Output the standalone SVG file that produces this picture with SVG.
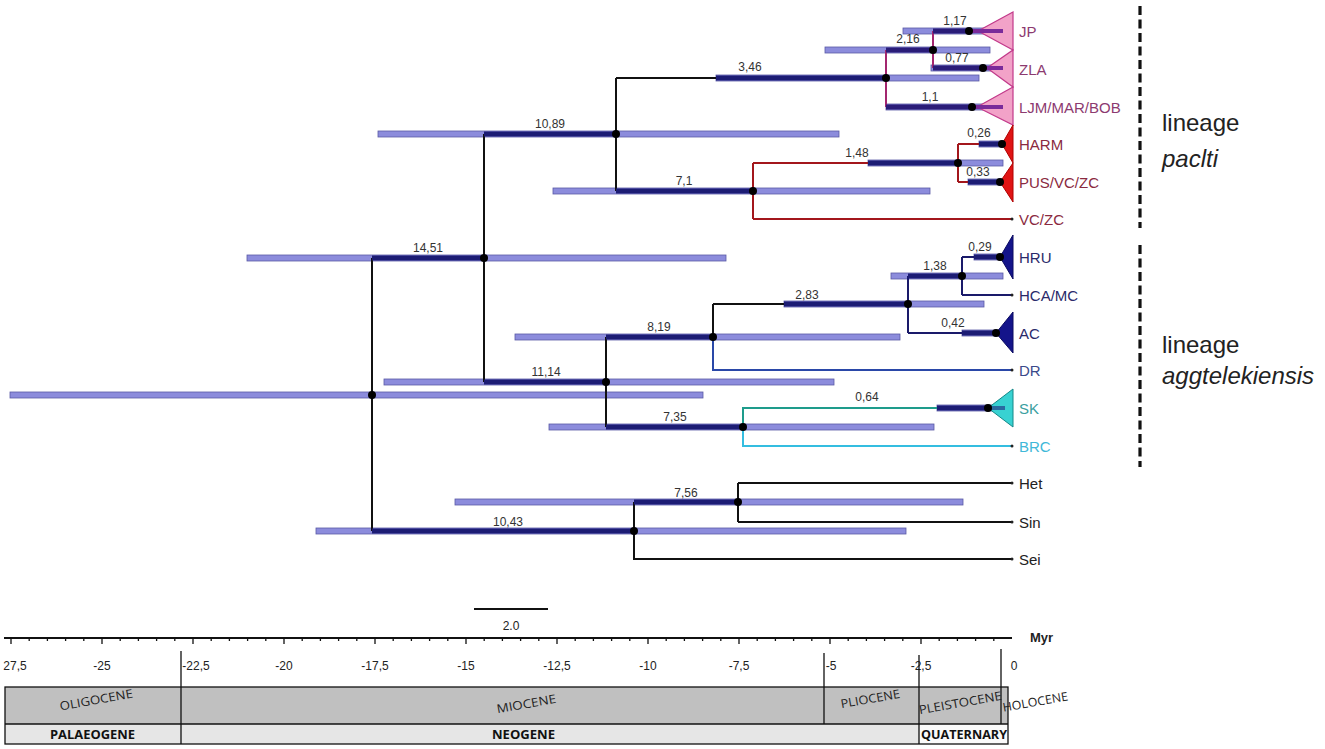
<svg xmlns="http://www.w3.org/2000/svg" width="1325" height="749" viewBox="0 0 1325 749">
<style>
text{font-family:"Liberation Sans",Arial,sans-serif}
.hpd{fill:#8c8cdc;stroke:#5a5aa6;stroke-width:0.8}
.thick{stroke:#1c1c74;stroke-width:5;fill:none}
.bk{stroke:#111;stroke-width:2;fill:none}
.mg{stroke:#a3266f;stroke-width:2;fill:none}
.rd{stroke:#a3171c;stroke-width:2;fill:none}
.nv{stroke:#1a1a6a;stroke-width:2;fill:none}
.bl{stroke:#2a48a8;stroke-width:2;fill:none}
.tl{stroke:#1e9c8c;stroke-width:2;fill:none}
.cy{stroke:#34bde0;stroke-width:2;fill:none}
.dot{fill:#000}
.tipdot{fill:#222}
.age{font-size:12px;text-anchor:middle;fill:#333}
.tax{font-size:15px}
.ax{font-size:12px;text-anchor:middle;fill:#222}
.ep{font-family:"Open Sans","Liberation Sans",sans-serif;font-size:12px;fill:#222;text-anchor:middle}
.per{font-family:"Open Sans","Liberation Sans",sans-serif;font-size:12px;font-weight:bold;fill:#111}
.gl{stroke:#111;stroke-width:1.3;fill:none}
</style>

<g id="hpd-bars">
<rect class="hpd" x="10" y="392" width="693" height="6"/>
<rect class="hpd" x="247" y="255" width="479" height="6"/>
<rect class="hpd" x="378" y="131" width="461" height="6"/>
<rect class="hpd" x="553" y="188" width="377" height="6"/>
<rect class="hpd" x="716" y="75" width="263" height="6"/>
<rect class="hpd" x="825" y="47" width="165" height="6"/>
<rect class="hpd" x="903" y="28" width="100" height="6"/>
<rect class="hpd" x="931" y="65" width="72" height="6"/>
<rect class="hpd" x="886" y="104" width="117" height="6"/>
<rect class="hpd" x="868" y="160" width="135" height="6"/>
<rect class="hpd" x="979" y="141" width="26" height="6"/>
<rect class="hpd" x="968" y="179" width="37" height="6"/>
<rect class="hpd" x="384" y="379" width="450" height="6"/>
<rect class="hpd" x="515" y="334" width="385" height="6"/>
<rect class="hpd" x="784" y="301" width="200" height="6"/>
<rect class="hpd" x="891" y="273" width="112" height="6"/>
<rect class="hpd" x="974" y="254" width="31" height="6"/>
<rect class="hpd" x="962" y="330" width="43" height="6"/>
<rect class="hpd" x="549" y="424" width="385" height="6"/>
<rect class="hpd" x="937" y="405" width="68" height="6"/>
<rect class="hpd" x="316" y="528" width="590" height="6"/>
<rect class="hpd" x="455" y="499" width="508" height="6"/>
</g>

<g id="connectors">
<!-- root -->
<path class="bk" d="M372 258V531"/>
<path class="thick" d="M372 258H484M372 531H634"/>
<!-- 14.51 -->
<path class="bk" d="M484 134V382"/>
<path class="thick" d="M484 134H616M484 382H606"/>
<!-- 10.89 -->
<path class="bk" d="M616 78V191M616 78H716"/>
<path class="thick" d="M716 78H886M616 191H753"/>
<!-- 3.46 clade -->
<path class="mg" d="M886 50V107M933 31V68"/>
<path class="thick" style="stroke:#2a1c78" d="M886 50H933M886 107H972M933 31H969M933 68H983"/>
<!-- 7.1 clade -->
<path class="rd" d="M753 163V219M753 163H868M753 219H1012M958 144V182M958 144H979M958 182H968"/>
<path class="thick" d="M868 163H958M979 144H1002M968 182H1000"/>
<!-- 11.14 -->
<path class="bk" d="M606 337V427M713 304V337M713 304H784"/>
<path class="thick" d="M606 337H713M606 427H743M784 304H908"/>
<path class="bl" d="M713 337V370H1012"/>
<!-- 2.83 clade -->
<path class="nv" d="M908 276V333M908 333H962M962 257V295M962 257H974M962 295H1012"/>
<path class="thick" d="M908 276H962M962 333H996M974 257H1000"/>
<!-- 7.35 clade -->
<path class="tl" d="M743 427V408H937"/>
<path class="cy" d="M743 427V446H1012"/>
<path class="thick" d="M937 408H988"/>
<!-- outgroups -->
<path class="bk" d="M634 502V559H1012M738 483V522M738 483H1012M738 522H1012"/>
<path class="thick" d="M634 502H738"/>
</g>

<g id="tips">
<circle class="tipdot" cx="1012" cy="219" r="1.5"/>
<circle class="tipdot" cx="1012" cy="370" r="1.5"/>
<circle class="tipdot" cx="1012" cy="295" r="1.5"/>
<circle class="tipdot" cx="1012" cy="446" r="1.5"/>
<circle class="tipdot" cx="1012" cy="483" r="1.5"/>
<circle class="tipdot" cx="1012" cy="522" r="1.5"/>
<circle class="tipdot" cx="1012" cy="559" r="1.5"/>
</g>

<g id="clade-JP">
<polygon points="978,31 1013,12 1013,50" fill="#f2a2c8" stroke="#c2398a" stroke-width="1.2"/>
<path d="M969 31H1003" stroke="#7a2a9a" stroke-width="4"/>
<text class="tax" x="1019" y="37" fill="#8c3a70">JP</text>
</g>
<g id="clade-ZLA">
<polygon points="987,68 1013,50 1013,87" fill="#f2a2c8" stroke="#c2398a" stroke-width="1.2"/>
<path d="M983 68H1003" stroke="#7a2a9a" stroke-width="4"/>
<text class="tax" x="1019" y="75" fill="#8c3a70">ZLA</text>
</g>
<g id="clade-LJM">
<polygon points="977,107 1013,87 1013,125" fill="#f2a2c8" stroke="#c2398a" stroke-width="1.2"/>
<path d="M972 107H1003" stroke="#7a2a9a" stroke-width="4"/>
<text class="tax" x="1019" y="113" fill="#8c3a70">LJM/MAR/BOB</text>
</g>
<g id="clade-HARM">
<polygon points="1002,144 1013,125 1013,163" fill="#e01414" stroke="#b00000" stroke-width="1"/>
<text class="tax" x="1019" y="150" fill="#8a2a40">HARM</text>
</g>
<g id="clade-PUS">
<polygon points="1000,182 1013,163 1013,202" fill="#e01414" stroke="#b00000" stroke-width="1"/>
<text class="tax" x="1019" y="188" fill="#8a2a40">PUS/VC/ZC</text>
</g>
<g id="tip-VCZC"><text class="tax" x="1019" y="225" fill="#8a2a40">VC/ZC</text></g>
<g id="clade-HRU">
<polygon points="1000,257 1013,235 1013,279" fill="#14148a" stroke="#0a0a60" stroke-width="1"/>
<text class="tax" x="1019" y="263" fill="#2a2a6a">HRU</text>
</g>
<g id="tip-HCAMC"><text class="tax" x="1019" y="301" fill="#2a2a6a">HCA/MC</text></g>
<g id="clade-AC">
<polygon points="996,333 1013,312 1013,353" fill="#14148a" stroke="#0a0a60" stroke-width="1"/>
<text class="tax" x="1019" y="339" fill="#2a2a6a">AC</text>
</g>
<g id="tip-DR"><text class="tax" x="1019" y="376" fill="#3a4a8a">DR</text></g>
<g id="clade-SK">
<polygon points="988,408 1013,389 1013,427" fill="#38d2d2" stroke="#138888" stroke-width="1"/>
<path d="M988 408H1005" stroke="#2a6aa0" stroke-width="4"/>
<text class="tax" x="1019" y="414" fill="#3aa0a0">SK</text>
</g>
<g id="tip-BRC"><text class="tax" x="1019" y="452" fill="#40b8d8">BRC</text></g>
<g id="tip-Het"><text class="tax" x="1019" y="489" fill="#222">Het</text></g>
<g id="tip-Sin"><text class="tax" x="1019" y="528" fill="#222">Sin</text></g>
<g id="tip-Sei"><text class="tax" x="1019" y="565" fill="#222">Sei</text></g>

<g id="node-root"><circle class="dot" cx="372" cy="395" r="4"/></g>
<g id="node-1451"><circle class="dot" cx="484" cy="258" r="4"/><text class="age" x="428" y="252">14,51</text></g>
<g id="node-1089"><circle class="dot" cx="616" cy="134" r="4"/><text class="age" x="550" y="128">10,89</text></g>
<g id="node-346"><circle class="dot" cx="886" cy="78" r="4"/><text class="age" x="750" y="71">3,46</text></g>
<g id="node-71"><circle class="dot" cx="753" cy="191" r="4"/><text class="age" x="684" y="185">7,1</text></g>
<g id="node-216"><circle class="dot" cx="933" cy="50" r="4"/><text class="age" x="908" y="43" fill="#6a3060">2,16</text></g>
<g id="node-117"><circle class="dot" cx="969" cy="31" r="4"/><text class="age" x="955" y="25" fill="#6a3060">1,17</text></g>
<g id="node-077"><circle class="dot" cx="983" cy="68" r="4"/><text class="age" x="957" y="62" fill="#6a3060">0,77</text></g>
<g id="node-11"><circle class="dot" cx="972" cy="107" r="4"/><text class="age" x="930" y="101" fill="#6a3060">1,1</text></g>
<g id="node-148"><circle class="dot" cx="958" cy="163" r="4"/><text class="age" x="857" y="157" fill="#8a2a2a">1,48</text></g>
<g id="node-026"><circle class="dot" cx="1002" cy="144" r="4"/><text class="age" x="979" y="137" fill="#8a2a2a">0,26</text></g>
<g id="node-033"><circle class="dot" cx="1000" cy="182" r="4"/><text class="age" x="978" y="176" fill="#8a2a2a">0,33</text></g>
<g id="node-1114"><circle class="dot" cx="606" cy="382" r="4"/><text class="age" x="546" y="376">11,14</text></g>
<g id="node-819"><circle class="dot" cx="713" cy="337" r="4"/><text class="age" x="659" y="331">8,19</text></g>
<g id="node-283"><circle class="dot" cx="908" cy="304" r="4"/><text class="age" x="807" y="299">2,83</text></g>
<g id="node-138"><circle class="dot" cx="962" cy="276" r="4"/><text class="age" x="935" y="270">1,38</text></g>
<g id="node-029"><circle class="dot" cx="1000" cy="257" r="4"/><text class="age" x="980" y="251">0,29</text></g>
<g id="node-042"><circle class="dot" cx="996" cy="333" r="4"/><text class="age" x="953" y="327">0,42</text></g>
<g id="node-735"><circle class="dot" cx="743" cy="427" r="4"/><text class="age" x="675" y="421">7,35</text></g>
<g id="node-064"><circle class="dot" cx="988" cy="408" r="4"/><text class="age" x="867" y="401" fill="#2a9a8a">0,64</text></g>
<g id="node-1043"><circle class="dot" cx="634" cy="531" r="4"/><text class="age" x="508" y="526">10,43</text></g>
<g id="node-756"><circle class="dot" cx="738" cy="502" r="4"/><text class="age" x="686" y="497">7,56</text></g>

<g id="lineages">
<path d="M1140 6V228M1140 245V467" stroke="#111" stroke-width="3.2" stroke-dasharray="9,4.5"/>
<text x="1162" y="131" font-size="24" fill="#222">lineage</text>
<text x="1162" y="167" font-size="24" font-style="italic" fill="#222">paclti</text>
<text x="1162" y="353" font-size="24" fill="#222">lineage</text>
<text x="1162" y="384" font-size="24" font-style="italic" fill="#222">aggtelekiensis</text>
</g>

<g id="scale-bar">
<path d="M474 609H548" stroke="#111" stroke-width="2.2"/>
<text x="511" y="630" font-size="12" text-anchor="middle" fill="#222">2.0</text>
</g>

<g id="axis">
<path d="M4 638H1012" stroke="#111" stroke-width="2"/>
<path id="minor" stroke="#111" stroke-width="1.3" d="M11 638v6M29.2 638v3M47.4 638v3M65.6 638v3M83.8 638v3M102 638v6M120.2 638v3M138.4 638v3M156.6 638v3M174.8 638v3M193 638v6M211.2 638v3M229.4 638v3M247.6 638v3M265.8 638v3M284 638v6M302.2 638v3M320.4 638v3M338.6 638v3M356.8 638v3M375 638v6M393.2 638v3M411.4 638v3M429.6 638v3M447.8 638v3M466 638v6M484.2 638v3M502.4 638v3M520.6 638v3M538.8 638v3M557 638v6M575.2 638v3M593.4 638v3M611.6 638v3M629.8 638v3M648 638v6M666.2 638v3M684.4 638v3M702.6 638v3M720.8 638v3M739 638v6M757.2 638v3M775.4 638v3M793.6 638v3M811.8 638v3M830 638v6M848.2 638v3M866.4 638v3M884.6 638v3M902.8 638v3M921 638v6M939.2 638v3M957.4 638v3M975.6 638v3M993.8 638v3"/>
<text x="1030" y="642" font-size="13" font-weight="bold" fill="#222">Myr</text>
<text class="ax" x="15" y="670">27,5</text>
<text class="ax" x="102" y="670">-25</text>
<text class="ax" x="196" y="670">-22,5</text>
<text class="ax" x="284" y="670">-20</text>
<text class="ax" x="375" y="670">-17,5</text>
<text class="ax" x="466" y="670">-15</text>
<text class="ax" x="557" y="670">-12,5</text>
<text class="ax" x="648" y="670">-10</text>
<text class="ax" x="739" y="670">-7,5</text>
<text class="ax" x="831" y="670">-5</text>
<text class="ax" x="921" y="670">-2,5</text>
<text class="ax" x="1014" y="670">0</text>
</g>

<g id="geologic-scale">
<rect x="5" y="687" width="1003" height="37" fill="#c0c0c0"/>
<rect x="5" y="724" width="914" height="20" fill="#e6e6e6"/>
<rect x="919" y="724" width="89" height="20" fill="#fafafa"/>
<rect class="gl" x="5" y="687" width="1003" height="57" stroke-width="1.6"/>
<path class="gl" d="M5 724H1008" stroke-width="2"/>
<path class="gl" d="M181 651V744M824 653V724M919 655V744M1001 649V724"/>
<text class="ep" transform="translate(97,704) rotate(-10)" textLength="74" lengthAdjust="spacingAndGlyphs">OLIGOCENE</text>
<text class="ep" transform="translate(527,708) rotate(-10)" textLength="60" lengthAdjust="spacingAndGlyphs">MIOCENE</text>
<text class="ep" transform="translate(871,703) rotate(-10)" textLength="60" lengthAdjust="spacingAndGlyphs">PLIOCENE</text>
<text class="ep" transform="translate(961,707) rotate(-10)" textLength="84" lengthAdjust="spacingAndGlyphs">PLEISTOCENE</text>
<text class="ep" transform="translate(1036,706) rotate(-10)" textLength="66" lengthAdjust="spacingAndGlyphs">HOLOCENE</text>
<text class="per" x="50" y="739" textLength="85" lengthAdjust="spacingAndGlyphs">PALAEOGENE</text>
<text class="per" x="492" y="739" textLength="63" lengthAdjust="spacingAndGlyphs">NEOGENE</text>
<text class="per" x="921" y="739" textLength="86" lengthAdjust="spacingAndGlyphs">QUATERNARY</text>
</g>
</svg>
